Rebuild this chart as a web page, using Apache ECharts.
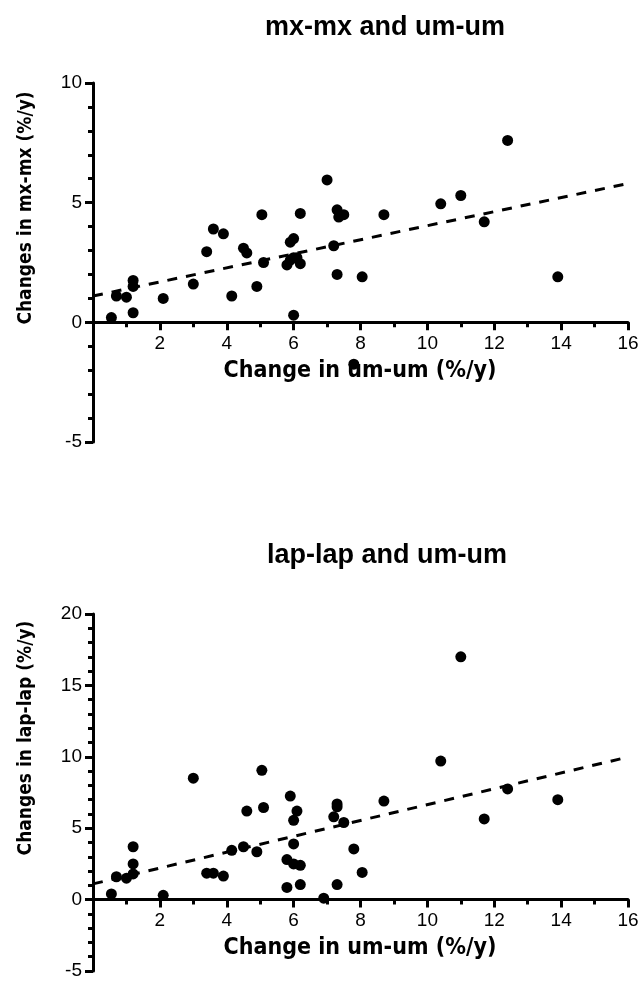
<!DOCTYPE html>
<html>
<head>
<meta charset="utf-8">
<script src="https://cdn.jsdelivr.net/npm/echarts@6/dist/echarts.min.js"></script>
<style>html,body{margin:0;padding:0;background:#fff;}#c{width:642px;height:990px;}</style>
</head>
<body>
<div id="c"></div>
<script>
// ---- data ----
const topTitle = 'mx-mx and um-um';
const bottomTitle = 'lap-lap and um-um';
const xTitle = 'Change in um-um (%/y)';
const topYTitle = 'Changes in mx-mx (%/y)';
const bottomYTitle = 'Changes in lap-lap (%/y)';

const topX = [0.55, 0.7, 1.0, 1.2, 1.2, 1.2, 2.1, 3.0, 3.4, 3.6, 3.9, 4.15, 4.5, 4.6, 4.9, 5.05, 5.1, 5.9, 6.0, 5.8, 6.0, 6.2, 6.2, 6.0, 7.0, 7.2, 7.3, 7.3, 7.35, 7.5, 8.05, 8.7, 10.4, 11.0, 11.7, 12.4, 13.9, 7.8, 5.9, 6.1];
const topY = [0.2, 1.1, 1.05, 1.75, 1.5, 0.4, 1.0, 1.6, 2.95, 3.9, 3.7, 1.1, 3.1, 2.9, 1.5, 4.5, 2.5, 3.35, 3.5, 2.4, 2.7, 2.45, 4.55, 0.3, 5.95, 3.2, 2.0, 4.7, 4.4, 4.5, 1.9, 4.5, 4.95, 5.3, 4.2, 7.6, 1.9, -1.75, 2.6, 2.7];
const topFitX = [0, 16];
const topFitY = [1.1, 5.8];

const botX = [0.55, 0.7, 1.0, 1.2, 1.2, 1.2, 2.1, 3.0, 3.4, 3.6, 3.9, 4.15, 4.5, 4.6, 4.9, 5.05, 5.1, 5.9, 5.8, 6.0, 6.2, 6.0, 6.1, 6.0, 5.8, 6.2, 6.9, 7.2, 7.3, 7.3, 7.5, 7.3, 7.8, 8.05, 8.7, 10.4, 11.0, 11.7, 12.4, 13.9];
const botY = [0.4, 1.6, 1.5, 1.8, 2.5, 3.7, 0.3, 8.5, 1.85, 1.85, 1.65, 3.45, 3.7, 6.2, 3.35, 9.05, 6.45, 7.25, 2.8, 2.5, 2.4, 3.9, 6.2, 5.55, 0.85, 1.05, 0.1, 5.8, 6.7, 6.5, 5.4, 1.05, 3.55, 1.9, 6.9, 9.7, 17.0, 5.65, 7.75, 7.0];
const botFitX = [0, 16];
const botFitY = [1.1, 9.98];

const xMin = 0, xMax = 16, xStep = 2;
const topYMin = -5, topYMax = 10, topYStep = 5;
const botYMin = -5, botYMax = 20, botYStep = 5;

// ---- helpers ----
const zip = (a, b) => a.map((v, i) => [v, b[i]]);
const tickFont = "'Liberation Sans', Arial, sans-serif";
const boldFont = "'DejaVu Sans Condensed', 'Liberation Sans', sans-serif";
const axisLineStyle = { color: '#000', width: 3 };

const grids = [
  { left: 93, top: 83, width: 535, height: 359 },
  { left: 93, top: 614, width: 535, height: 357 }
];

// x axis sits on y = 0: shift it up from the grid bottom by the height of the negative part
function xAxis(gi, yMin, yMax) {
  const g = grids[gi];
  const off = -g.height * (0 - yMin) / (yMax - yMin);
  return {
    type: 'value', gridIndex: gi, min: xMin, max: xMax, interval: xStep,
    position: 'bottom', offset: off,
    axisLine: { show: true, onZero: false, lineStyle: axisLineStyle },
    axisTick: { show: true, inside: false, length: 8, lineStyle: { color: '#000', width: 3 } },
    minorTick: { show: true, splitNumber: 2, length: 5, lineStyle: { color: '#000', width: 3 } },
    splitLine: { show: false },
    axisLabel: { color: '#000', fontSize: 19, fontFamily: tickFont, margin: 12,
      formatter: v => (v === 0 ? '' : String(v)) }
  };
}
function yAxis(gi, mn, mx, st) {
  return {
    type: 'value', gridIndex: gi, min: mn, max: mx, interval: st,
    axisLine: { show: true, onZero: false, lineStyle: axisLineStyle },
    axisTick: { show: true, inside: false, length: 8, lineStyle: { color: '#000', width: 3 } },
    minorTick: { show: true, splitNumber: 5, length: 5, lineStyle: { color: '#000', width: 3 } },
    splitLine: { show: false },
    axisLabel: { color: '#000', fontSize: 19, fontFamily: tickFont, margin: 11 }
  };
}

const chart = echarts.init(document.getElementById('c'), null, { renderer: 'canvas' });
chart.setOption({
  animation: false,
  backgroundColor: '#fff',
  grid: grids,
  xAxis: [xAxis(0, topYMin, topYMax), xAxis(1, botYMin, botYMax)],
  yAxis: [yAxis(0, topYMin, topYMax, topYStep), yAxis(1, botYMin, botYMax, botYStep)],
  graphic: [
    { type: 'text', x: 385, y: 28, style: { text: topTitle, fill: '#000', font: "bold 27px 'Liberation Sans', Arial, sans-serif", align: 'center', verticalAlign: 'middle' } },
    { type: 'text', x: 387, y: 556, style: { text: bottomTitle, fill: '#000', font: "bold 27px 'Liberation Sans', Arial, sans-serif", align: 'center', verticalAlign: 'middle' } },
    { type: 'text', x: 360, y: 371, style: { text: xTitle, fill: '#000', font: "bold 23px " + boldFont, align: 'center', verticalAlign: 'middle' } },
    { type: 'text', x: 360, y: 948, style: { text: xTitle, fill: '#000', font: "bold 23px " + boldFont, align: 'center', verticalAlign: 'middle' } },
    { type: 'text', x: 26, y: 208, rotation: Math.PI / 2, style: { text: topYTitle, fill: '#000', font: "bold 19px " + boldFont, align: 'center', verticalAlign: 'middle' } },
    { type: 'text', x: 26, y: 738, rotation: Math.PI / 2, style: { text: bottomYTitle, fill: '#000', font: "bold 19px " + boldFont, align: 'center', verticalAlign: 'middle' } }
  ],
  series: [
    { type: 'scatter', xAxisIndex: 0, yAxisIndex: 0, data: zip(topX, topY), symbol: 'circle', symbolSize: 11, itemStyle: { color: '#000', opacity: 1 } },
    { type: 'line', xAxisIndex: 0, yAxisIndex: 0, data: zip(topFitX, topFitY), symbol: 'none', lineStyle: { color: '#000', width: 3, type: [10, 9] } },
    { type: 'scatter', xAxisIndex: 1, yAxisIndex: 1, data: zip(botX, botY), symbol: 'circle', symbolSize: 11, itemStyle: { color: '#000', opacity: 1 } },
    { type: 'line', xAxisIndex: 1, yAxisIndex: 1, data: zip(botFitX, botFitY), symbol: 'none', lineStyle: { color: '#000', width: 3, type: [10, 9] } }
  ]
});
</script>
</body>
</html>
